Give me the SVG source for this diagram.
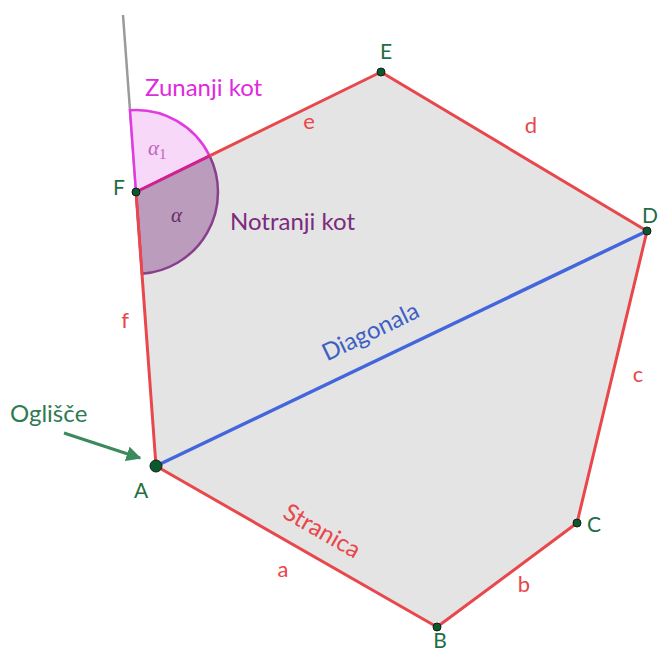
<svg xmlns="http://www.w3.org/2000/svg" width="660" height="652" viewBox="0 0 660 652">
<defs>
<style>
.edge{stroke:#e8474b;stroke-width:3;fill:none;stroke-linecap:round}
.pt{fill:#0b5a2e;stroke:#1a1a1a;stroke-width:1}
.vl{font-family:Lato,"Open Sans",sans-serif;font-size:21px;fill:#1f6e43}
.el{font-family:Lato,"Open Sans",sans-serif;font-size:22px;fill:#e8474b}
.lbl{font-family:Lato,"Open Sans",sans-serif;font-size:24px}
</style>
<marker id="ah" viewBox="0 0 10 10" refX="9" refY="5" markerWidth="5" markerHeight="5" orient="auto"><path d="M0,0L10,5L0,10z" fill="#3a8a5c"/></marker>
</defs>
<rect width="660" height="652" fill="#ffffff"/>
<polygon id="polygon" points="156,466 437,627 577,523 647,231 381,72 136,192" fill="#e4e4e4"/>
<line id="extension" x1="136" y1="192" x2="123" y2="15" stroke="#9a9a9a" stroke-width="2.5"/>
<g id="angles">
<path id="alpha1" d="M136,192 L130,110.2 A82,82 0 0 1 209.6,155.9 Z" fill="#f8d8f8" stroke="#e13ae1" stroke-width="2.5"/>
<path id="alpha" d="M136,192 L209.6,155.9 A82,82 0 0 1 142,273.8 Z" fill="#bc9cbd" stroke="#8a3f8c" stroke-width="2.5"/>
</g>
<g id="connectors">
<line id="a" class="edge" x1="156" y1="466" x2="437" y2="627"/>
<line id="b" class="edge" x1="437" y1="627" x2="577" y2="523"/>
<line id="c" class="edge" x1="577" y1="523" x2="647" y2="231"/>
<line id="d" class="edge" x1="647" y1="231" x2="381" y2="72"/>
<line id="e" class="edge" x1="381" y1="72" x2="209.6" y2="155.9"/>
<line id="e2" x1="209.6" y1="155.9" x2="136" y2="192" stroke="#d0218f" stroke-width="3"/>
<line id="f" class="edge" x1="136" y1="192" x2="156" y2="466"/>
<line id="diagonal" x1="156" y1="466" x2="647" y2="231" stroke="#4466dd" stroke-width="3.5"/>
<line id="arrow" x1="64" y1="433" x2="140" y2="458" stroke="#3a8a5c" stroke-width="3" marker-end="url(#ah)"/>
</g>
<g id="edge-labels">
<text class="el" x="309" y="129" text-anchor="middle">e</text>
<text class="el" x="531" y="133" text-anchor="middle">d</text>
<text class="el" x="638" y="382" text-anchor="middle">c</text>
<text class="el" x="524" y="592" text-anchor="middle">b</text>
<text class="el" x="283" y="577" text-anchor="middle">a</text>
<text class="el" x="125" y="328" text-anchor="middle">f</text>
<text class="lbl" x="0" y="0" text-anchor="middle" fill="#e8474b" transform="translate(318,538) rotate(29.8)">Stranica</text>
<text class="lbl" x="0" y="0" text-anchor="middle" fill="#3d5fc4" transform="translate(374,339) rotate(-25.6)">Diagonala</text>
</g>
<g id="A"><circle class="pt" cx="156" cy="466" r="6"/><text class="vl" x="141" y="498" text-anchor="middle">A</text></g>
<g id="B"><circle class="pt" cx="437" cy="627" r="4"/><text class="vl" x="440" y="648" text-anchor="middle">B</text></g>
<g id="C"><circle class="pt" cx="577" cy="523" r="4"/><text class="vl" x="594" y="532" text-anchor="middle">C</text></g>
<g id="D"><circle class="pt" cx="647" cy="231" r="4"/><text class="vl" x="650" y="223" text-anchor="middle">D</text></g>
<g id="E"><circle class="pt" cx="381" cy="72" r="4"/><text class="vl" x="386" y="59" text-anchor="middle">E</text></g>
<g id="F"><circle class="pt" cx="136" cy="192" r="4"/><text class="vl" x="119" y="195" text-anchor="middle">F</text></g>
<g id="angle-labels">
<text x="148" y="155" font-family="'Liberation Serif',serif" font-style="italic" font-size="21" fill="#c062c0">α<tspan font-style="normal" font-size="15" dy="4">1</tspan></text>
<text x="171" y="222" font-family="'Liberation Serif',serif" font-style="italic" font-size="21" fill="#6a2a6a">α</text>
<text class="lbl" x="145" y="96" fill="#e02ae0">Zunanji kot</text>
<text class="lbl" x="230" y="230" fill="#7b2a7d">Notranji kot</text>
<text class="lbl" x="10" y="422" fill="#2f7a52">Ogliščе</text>
</g>
</svg>
